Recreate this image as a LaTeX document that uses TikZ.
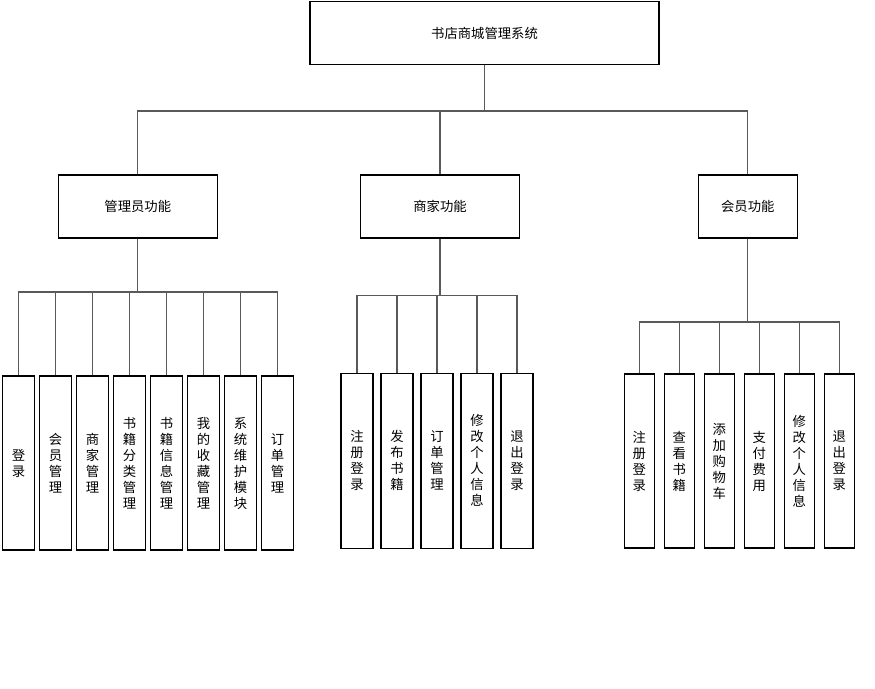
\documentclass[tikz,border=0pt]{standalone}
\usepackage{fontspec}
\setmainfont{Noto Sans CJK SC}
\usetikzlibrary{positioning}

\begin{document}
\begin{tikzpicture}[x=0.75pt, y=-0.75pt,
  box/.style={draw, line width=0.8pt, fill=white, inner sep=0pt,
    font=\fontsize{10}{12}\selectfont, align=center},
  leaf/.style={box, minimum width=24pt, minimum height=130.5pt},
  link/.style={draw=gray!70!black, line width=0.9pt}]
  \useasboundingbox (0,0) rectangle (875,689);

  % Top level
  \node[box, minimum width=261.75pt, minimum height=47.25pt] (sys)
    at (484.5,33) {书店商城管理系统};
  \coordinate (bus0) at (0,111);

  % Second level
  \node[box, minimum width=119.25pt, minimum height=47.25pt] (admin)
    at (137.75,206.5) {管理员功能};
  \node[box, minimum width=119.25pt, minimum height=47.25pt] (shop)
    at (440,206.5) {商家功能};
  \node[box, minimum width=74.25pt, minimum height=47.25pt] (member)
    at (747.8,206.5) {会员功能};
  \foreach \p in {admin,shop,member}
    \draw[link] (sys.south) -- (sys.south |- bus0) -| (\p.north);

  % Admin leaves
  \coordinate (bus1) at (0,292);
  \foreach \t [count=\i] in {{登\\录},{会\\员\\管\\理},{商\\家\\管\\理},
      {书\\籍\\分\\类\\管\\理},{书\\籍\\信\\息\\管\\理},{我\\的\\收\\藏\\管\\理},
      {系\\统\\维\\护\\模\\块},{订\\单\\管\\理}} {
    \node[leaf] (a\i) at ({18.5+37*(\i-1)},463) {\t};
    \draw[link] (admin.south) -- (admin.south |- bus1) -| (a\i.north);
  }

  % Shop leaves
  \coordinate (bus2) at (0,295.5);
  \foreach \t [count=\i] in {{注\\册\\登\\录},{发\\布\\书\\籍},{订\\单\\管\\理},
      {修\\改\\个\\人\\信\\息},{退\\出\\登\\录}} {
    \node[leaf, minimum height=131.25pt] (s\i) at ({357+40*(\i-1)},460.7) {\t};
    \draw[link] (shop.south) -- (shop.south |- bus2) -| (s\i.north);
  }

  % Member leaves
  \coordinate (bus3) at (0,322);
  \foreach \t [count=\i] in {{注\\册\\登\\录},{查\\看\\书\\籍},{添\\加\\购\\物\\车},
      {支\\付\\费\\用},{修\\改\\个\\人\\信\\息},{退\\出\\登\\录}} {
    \node[leaf, minimum width=22.5pt] (m\i) at ({639.3+40*(\i-1)},461) {\t};
    \draw[link] (member.south) -- (member.south |- bus3) -| (m\i.north);
  }

\end{tikzpicture}
\end{document}
